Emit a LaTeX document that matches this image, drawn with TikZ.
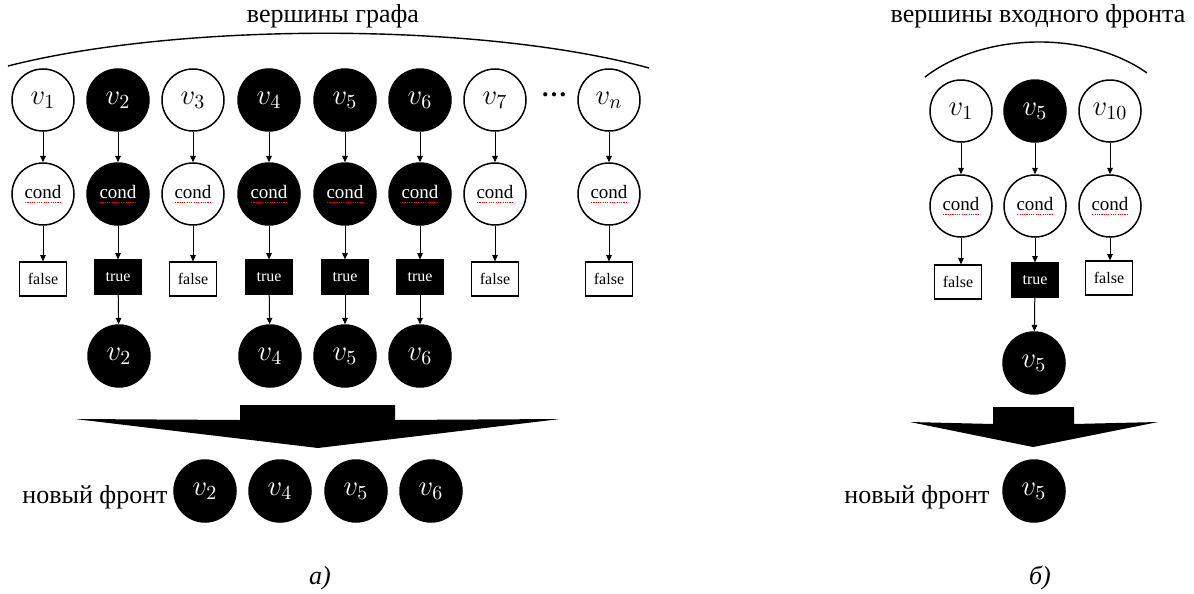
\documentclass[tikz,border=0pt]{standalone}
\usepackage{fontspec}
\setmainfont{Liberation Serif}
\usetikzlibrary{arrows.meta}
\newcommand\myvfont{\fontsize{14}{16}\selectfont}
\newcommand\mycondfont{\fontsize{9.5}{11}\selectfont}
\newcommand\myboxfont{\fontsize{8}{10}\selectfont}
\newcommand\mycyrfont{\fontsize{13}{15}\selectfont}
\newlength\mycondw
\newcommand\condlbl{\settowidth{\mycondw}{cond}cond\kern-\mycondw\raisebox{-2.4pt}{\color{red}\hbox to\mycondw{\xleaders\hbox to 1.1pt{\hss\rule{0.55pt}{0.45pt}\hss}\hfill}}}
\begin{document}
\begin{tikzpicture}[x=0.5pt,y=-0.5pt,
  vw/.style={circle, draw, line width=0.75pt, minimum size=31pt, inner sep=0pt, font=\myvfont},
  vb/.style={vw, fill=black, text=white},
  cw/.style={circle, draw, line width=0.75pt, minimum size=31pt, inner sep=0pt, font=\mycondfont},
  cb/.style={cw, fill=black, text=white},
  fb/.style={draw, line width=0.6pt, minimum width=23.5pt, minimum height=17pt, inner sep=0pt, font=\myboxfont},
  tb/.style={fb, fill=black, text=white},
  arr/.style={-{Triangle[length=3.2pt,width=2.8pt]}, line width=0.5pt},
  cyr/.style={font=\mycyrfont, inner sep=0pt},
  bigarrow/.style={fill=black, draw=none},
  brace/.style={line width=0.7pt}
]
\useasboundingbox (0,0) rectangle (1194,594);

% ---------- left panel ----------
\node[cyr, anchor=base] (ttl) at (333,23) {вершины графа};
\draw[brace] (8,66) .. controls (180,22) and (480,22) .. (649,68);

\node[vw] (l1) at (43,100) {$v_1$};
\node[vb] (l2) at (118,100) {$v_2$};
\node[vw] (l3) at (193,100) {$v_3$};
\node[vb] (l4) at (269,100) {$v_4$};
\node[vb] (l5) at (345,100) {$v_5$};
\node[vb] (l6) at (420,100) {$v_6$};
\node[vw] (l7) at (495,100) {$v_7$};
\node[vw] (ln) at (609,100) {$v_n$};
\node[font=\bfseries\fontsize{13}{13}\selectfont, inner sep=0pt] (dots) at (554,95) {…};

\node[cw] (lc1) at (43,194) {\condlbl};
\node[cb] (lc2) at (118,194) {\condlbl};
\node[cw] (lc3) at (193,194) {\condlbl};
\node[cb] (lc4) at (269,194) {\condlbl};
\node[cb] (lc5) at (345,194) {\condlbl};
\node[cb] (lc6) at (420,194) {\condlbl};
\node[cw] (lc7) at (495,194) {\condlbl};
\node[cw] (lcn) at (609,194) {\condlbl};

\node[fb] (lb1) at (43,279) {false};
\node[tb] (lb2) at (118,277) {true};
\node[fb] (lb3) at (193,279) {false};
\node[tb] (lb4) at (269,277) {true};
\node[tb] (lb5) at (345,277) {true};
\node[tb] (lb6) at (420,277) {true};
\node[fb] (lb7) at (495,279) {false};
\node[fb] (lbn) at (609,279) {false};

\node[vb] (lo2) at (119,356) {$v_2$};
\node[vb] (lo4) at (270,356) {$v_4$};
\node[vb] (lo5) at (345,356) {$v_5$};
\node[vb] (lo6) at (420,356) {$v_6$};

\foreach \k in {1,2,3,4,5,6,7,n}{
  \draw[arr] (l\k) -- (lc\k);
  \draw[arr] (lc\k) -- (lb\k);
}
\foreach \k in {2,4,5,6}{
  \draw[arr] (lb\k) -- (lo\k);
}

\fill[bigarrow] (75,419) -- (240,420) -- (240,405) -- (395,405) -- (395,420) -- (560,419) -- (318,448) -- cycle;

\node[cyr, anchor=base east] (lnew) at (168,503) {новый фронт};
\node[vb] (lf2) at (205,491) {$v_2$};
\node[vb] (lf4) at (280,491) {$v_4$};
\node[vb] (lf5) at (356,491) {$v_5$};
\node[vb] (lf6) at (431,491) {$v_6$};

\node[cyr, anchor=base] (capa) at (320,584) {\itshape а)};

% ---------- right panel ----------
\node[cyr, anchor=base] (ttr) at (1038,23) {вершины входного фронта};
\draw[brace] (925,77) .. controls (985,31) and (1088,31) .. (1147,73);

\node[vw] (r1) at (961,111) {$v_1$};
\node[vb] (r5) at (1035,111) {$v_5$};
\node[vw] (r10) at (1110,111) {$v_{10}$};

\node[cw] (rc1) at (961,206) {\condlbl};
\node[cw] (rc5) at (1035,206) {\condlbl};
\node[cw] (rc10) at (1110,206) {\condlbl};

\node[fb] (rb1) at (958,282) {false};
\node[tb] (rb5) at (1035,280) {true};
\node[fb] (rb10) at (1109,278) {false};

\node[vb] (ro5) at (1034,363) {$v_5$};

\foreach \k in {1,5,10}{
  \draw[arr] (r\k) -- (rc\k);
  \draw[arr] (rc\k.south) -- (rc\k.south |- rb\k.north);
}
\draw[arr] (rb5) -- (ro5);

\fill[bigarrow] (910,422) -- (993,424) -- (993,407) -- (1074,407) -- (1074,424) -- (1158,422) -- (1033,447) -- cycle;

\node[cyr, anchor=base east] (rnew) at (990,503) {новый фронт};
\node[vb] (rf5) at (1034,491) {$v_5$};

\node[cyr, anchor=base] (capb) at (1040,584) {\itshape б)};
\end{tikzpicture}
\end{document}
